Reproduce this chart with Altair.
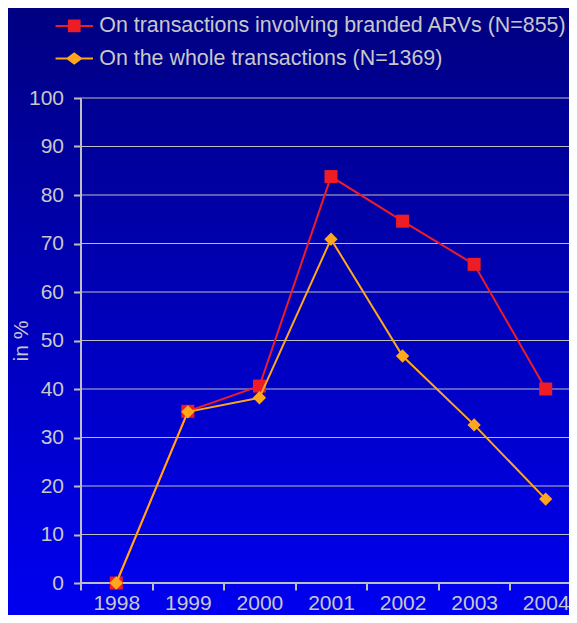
import altair as alt
import pandas as pd

years = ["1998", "1999", "2000", "2001", "2002", "2003", "2004"]
branded = [0.0, 35.4, 40.6, 83.8, 74.6, 65.7, 40.0]
whole = [0.0, 35.3, 38.2, 70.9, 46.8, 32.6, 17.3]
series = ["On transactions involving branded ARVs (N=855)",
          "On the whole transactions (N=1369)"]
y_ticks = [0, 10, 20, 30, 40, 50, 60, 70, 80, 90, 100]

RED = "#EE1D25"
ORANGE = "#FFA61C"
TXT = "#C8C8C8"
AX = "#BEBEBE"
TOP = "#000080"
BOT = "#0000F2"
FONT = "Liberation Sans"

SVG_W, SVG_H = 561, 607
PAD_L, PAD_T = 72.5, 90
W_RANGE = 501
W_VIEW = SVG_W - PAD_L
H = 485

df = pd.DataFrame({
    "year": years * 2,
    "value": branded + whole,
    "series": [series[0]] * len(years) + [series[1]] * len(years),
})
grid_df = pd.DataFrame({"tick": y_ticks})
bg_df = pd.DataFrame({"bg": [0]})

x_scale = alt.Scale(type="band", domain=years, range=[0, W_RANGE],
                    paddingInner=0, paddingOuter=0)
y_scale = alt.Scale(domain=[0, 100], nice=False, zero=True)

x_axis = alt.Axis(title=None, labelAngle=0, labelFont=FONT, labelFontSize=21,
                  labelColor=TXT, domain=False, ticks=True, tickColor=AX,
                  tickWidth=2, tickSize=7, tickBand="extent", labelPadding=2,
                  grid=False, zindex=1)
y_axis = alt.Axis(title="in %", values=y_ticks, labelFont=FONT, labelFontSize=21,
                  labelColor=TXT, domainColor=AX, domainWidth=2, tickColor=AX,
                  tickWidth=2, tickSize=7, labelPadding=10, grid=False,
                  titleFont=FONT, titleFontSize=21, titleColor=TXT,
                  titleFontWeight="normal", titlePadding=-2.8, zindex=1)

X = alt.X("year:N", scale=x_scale, axis=x_axis, sort=years)
Y = alt.Y("value:Q", scale=y_scale, axis=y_axis)

bg = alt.Chart(bg_df).mark_rect(
    fill=alt.Gradient(gradient="linear",
                      stops=[alt.GradientStop(color=TOP, offset=0),
                             alt.GradientStop(color=BOT, offset=1)],
                      x1=0, x2=0, y1=0, y2=1)
).encode(x=alt.value(-81), x2=alt.value(W_RANGE + 20),
         y=alt.value(-98), y2=alt.value(525))

grid = alt.Chart(grid_df).mark_rule(color=AX).encode(
    y=alt.Y("tick:Q", scale=y_scale, axis=y_axis),
    strokeWidth=alt.condition("datum.tick == 0", alt.value(2), alt.value(1)),
)

def series_layers(name, color, shape, size):
    base = alt.Chart(df).transform_filter(alt.datum.series == name)
    line = base.mark_line(color=color, strokeWidth=2).encode(x=X, y=Y)
    pts = base.mark_point(shape=shape, filled=True, size=size, opacity=1,
                          color=color, strokeWidth=0).encode(x=X, y=Y)
    return [line, pts]

p_square = "M-3.5,0H3.5M-1,-1H1V1H-1Z"
p_diamond = "M-3.5,0H3.5M-1.27,0L0,-0.95L1.27,0L0,0.95Z"

legend = alt.Legend(title=None, orient="none", legendX=-30.3, legendY=-82.8,
                    direction="vertical", labelFont=FONT, labelFontSize=21.4,
                    labelColor=TXT, symbolSize=114.5, symbolOffset=13.35,
                    labelOffset=14.35, rowPadding=9.6, padding=0,
                    symbolStrokeWidth=2, labelLimit=800)

leg = alt.Chart(df).transform_filter("datum.value < -1").mark_point(
    filled=True, opacity=1, strokeWidth=2
).encode(
    x=X, y=Y,
    color=alt.Color("series:N", scale=alt.Scale(domain=series, range=[RED, ORANGE]), legend=legend),
    stroke=alt.Stroke("series:N", scale=alt.Scale(domain=series, range=[RED, ORANGE]), legend=legend),
    shape=alt.Shape("series:N", scale=alt.Scale(domain=series, range=[p_square, p_diamond]), legend=legend),
)

layers = [bg, grid] + series_layers(series[0], RED, "square", 169) \
    + series_layers(series[1], ORANGE, "diamond", 177) + [leg]

chart = alt.layer(*layers).properties(
    width=W_VIEW, height=H,
    autosize=alt.AutoSizeParams(type="none"),
    padding={"left": PAD_L, "top": PAD_T, "right": 0,
             "bottom": SVG_H - PAD_T - H},
).configure(background=TOP).configure_view(stroke=None)

chart.save("out.html", embed_options={"renderer": "svg", "actions": False})
